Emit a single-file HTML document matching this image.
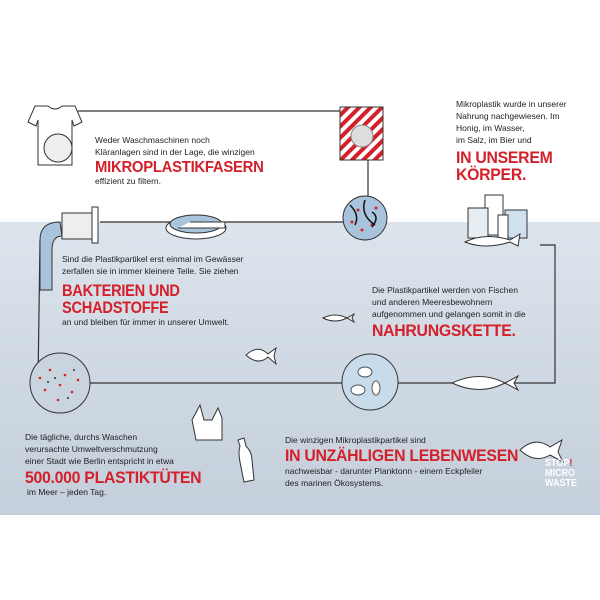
<!DOCTYPE html>
<html><head><meta charset="utf-8"><style>
body{margin:0;width:600px;height:600px;background:#fff;position:relative;overflow:hidden;font-family:"Liberation Sans",sans-serif;}
.t{position:absolute;font-size:8.5px;color:#222;line-height:12px;white-space:nowrap}
.r{position:absolute;color:#d4202a;font-weight:bold;font-size:17px;line-height:17px;white-space:nowrap;letter-spacing:-0.3px;transform:scaleX(0.93);transform-origin:left top}
svg{position:absolute;left:0;top:0}
</style></head><body>
<div style="position:absolute;left:0;top:222px;width:600px;height:293px;background:linear-gradient(#dce4ec,#c4cfdb)"></div>
<svg width="600" height="600" viewBox="0 0 600 600">
<defs>
<pattern id="st" width="8" height="8" patternUnits="userSpaceOnUse" patternTransform="rotate(45)"><rect width="4" height="8" fill="#d4202a"/></pattern>
</defs>
<g stroke="#333" stroke-width="1.2" fill="none">
<line x1="78" y1="111" x2="340" y2="111"/>
<line x1="368" y1="160" x2="368" y2="196"/>
<line x1="100" y1="222" x2="343" y2="222"/>
<polyline points="40,240 38,383 555,383 555,245 540,245"/>
</g>
<path d="M35,106 L48,106 Q55,112 62,106 L75,106 L82,122 L74,126 L72,120 L72,165 L38,165 L38,120 L36,126 L28,122 Z" fill="#fff" stroke="#333"/>
<circle cx="58" cy="148" r="14" fill="#eee" stroke="#333"/>
<rect x="340" y="107" width="43" height="53" fill="url(#st)" stroke="#333"/>
<rect x="340" y="107" width="43" height="53" fill="none" stroke="#333"/>
<circle cx="362" cy="136" r="11" fill="#ddd" stroke="#888"/>
<circle cx="365" cy="218" r="22" fill="#a8c4dc" stroke="#333"/>
<g fill="#d4202a"><circle cx="358" cy="210" r="1.5"/><circle cx="372" cy="225" r="1.5"/><circle cx="362" cy="230" r="1.5"/><circle cx="376" cy="208" r="1.5"/><circle cx="352" cy="222" r="1.5"/></g>
<path d="M350,205 q10,10 5,20 M365,200 q-5,15 10,25 M372,212 q8,5 0,15" stroke="#111" fill="none" stroke-width="1.5"/>
<path d="M40,240 Q40,222 60,222 L62,236 Q52,236 52,250 L52,290 L40,290 Z" fill="#a8c4dc" stroke="#333"/>
<rect x="62" y="213" width="30" height="26" fill="#eee" stroke="#333"/>
<rect x="92" y="207" width="6" height="36" fill="#fff" stroke="#333"/>
<ellipse cx="196" cy="228" rx="30" ry="11" fill="#fff" stroke="#333"/>
<ellipse cx="196" cy="224" rx="26" ry="9" fill="#a8c4dc" stroke="#333"/>
<path d="M178,228 L225,228 L225,222 L190,222" fill="#fff" stroke="#333"/>
<rect x="485" y="195" width="18" height="40" fill="#fff" stroke="#333"/>
<rect x="468" y="208" width="20" height="30" fill="#e6eef4" stroke="#333"/>
<rect x="505" y="210" width="22" height="28" fill="#cfe0ee" stroke="#333"/>
<rect x="498" y="215" width="10" height="25" fill="#fff" stroke="#333"/>
<path d="M465,242 Q485,232 510,240 L520,234 L518,246 L510,242 Q485,250 465,242Z" fill="#fff" stroke="#333"/>
<circle cx="60" cy="383" r="30" fill="#c9d4de" stroke="#333"/>
<g fill="#d4202a"><circle cx="50" cy="370" r="1.3"/><circle cx="65" cy="375" r="1.3"/><circle cx="45" cy="390" r="1.3"/><circle cx="72" cy="392" r="1.3"/><circle cx="58" cy="400" r="1.3"/><circle cx="40" cy="378" r="1.3"/><circle cx="78" cy="380" r="1.3"/><circle cx="60" cy="385" r="1.3"/></g>
<g fill="#333"><circle cx="55" cy="378" r="1"/><circle cx="68" cy="398" r="1"/><circle cx="48" cy="382" r="1"/><circle cx="74" cy="370" r="1"/></g>
<circle cx="370" cy="382" r="28" fill="#c7dbeb" stroke="#333"/>
<ellipse cx="365" cy="372" rx="7" ry="5" fill="#fff" stroke="#555"/>
<ellipse cx="358" cy="390" rx="7" ry="5" fill="#fff" stroke="#555"/>
<ellipse cx="376" cy="388" rx="4" ry="7" fill="#fff" stroke="#555"/>
<g fill="#fff" stroke="#333">
<path d="M323,318 Q335,312 347,318 L354,314 L352,318 L354,322 L347,318 Q335,324 323,318Z"/>
<path d="M246,355 Q258,344 268,354 L276,348 L274,356 L276,364 L268,357 Q258,366 246,355Z"/>
<path d="M452,383 Q480,370 505,383 L518,376 L514,383 L518,390 L505,383 Q480,396 452,383Z"/>
<path d="M520,450 Q535,436 550,447 L562,440 L558,452 L563,462 L550,455 Q535,464 520,450Z"/>
<path d="M200,405 L204,420 L212,420 L218,408 L222,418 L222,440 L196,440 L192,420 Z"/>
<path d="M238,440 L244,438 L246,446 Q252,452 252,460 L254,480 L244,482 L240,462 Q238,452 240,446Z"/>
</g>
</svg>
<div class="t" style="left:95px;top:134px">Weder Waschmaschinen noch<br>Kläranlagen sind in der Lage, die winzigen</div>
<div class="r" style="left:95px;top:159px;font-size:16px">MIKROPLASTIKFASERN</div>
<div class="t" style="left:95px;top:175px">effizient zu filtern.</div>
<div class="t" style="left:456px;top:98px">Mikroplastik wurde in unserer<br>Nahrung nachgewiesen. Im<br>Honig, im Wasser,<br>im Salz, im Bier und</div>
<div class="r" style="left:456px;top:149px">IN UNSEREM<br>KÖRPER.</div>
<div class="t" style="left:62px;top:253px">Sind die Plastikpartikel erst einmal im Gewässer<br>zerfallen sie in immer kleinere Teile. Sie ziehen</div>
<div class="r" style="left:62px;top:282px;transform:scaleX(0.86)">BAKTERIEN UND<br>SCHADSTOFFE</div>
<div class="t" style="left:62px;top:316px">an und bleiben für immer in unserer Umwelt.</div>
<div class="t" style="left:372px;top:284px">Die Plastikpartikel werden von Fischen<br>und anderen Meeresbewohnern<br>aufgenommen und gelangen somit in die</div>
<div class="r" style="left:372px;top:322px">NAHRUNGSKETTE.</div>
<div class="t" style="left:25px;top:431px">Die tägliche, durchs Waschen<br>verursachte Umweltverschmutzung<br>einer Stadt wie Berlin entspricht in etwa</div>
<div class="r" style="left:25px;top:469px">500.000 PLASTIKTÜTEN</div>
<div class="t" style="left:27px;top:486px">im Meer – jeden Tag.</div>
<div class="t" style="left:285px;top:434px">Die winzigen Mikroplastikpartikel sind</div>
<div class="r" style="left:285px;top:447px">IN UNZÄHLIGEN LEBENWESEN</div>
<div class="t" style="left:285px;top:465px">nachweisbar - darunter Planktonn - einem Eckpfeiler<br>des marinen Ökosystems.</div>
<div style="position:absolute;left:545px;top:459px;color:#fff;font-weight:bold;font-size:10px;line-height:10px;transform:scaleX(0.9);transform-origin:left top">STOP<span style="color:#d4202a">!</span><br>MICRO<br>WASTE</div>
</body></html>
